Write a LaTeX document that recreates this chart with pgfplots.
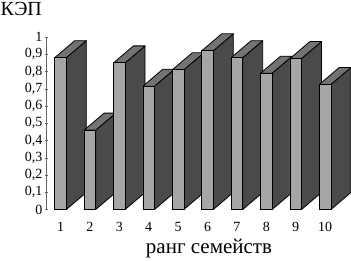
\documentclass[border=0pt]{standalone}
\usepackage{fontspec}
\setmainfont{Liberation Serif}
\usepackage{pgfplots}
\pgfplotsset{compat=1.18}
\definecolor{frontc}{gray}{0.65}
\definecolor{sidec}{gray}{0.29}
\definecolor{topc}{gray}{0.45}
\newcommand{\sidef}[1]{\addplot[draw=black,line width=0.8pt,fill=sidec,line join=round] coordinates {#1} --cycle;}
\newcommand{\topf}[1]{\addplot[draw=black,line width=0.8pt,fill=topc,line join=round] coordinates {#1} --cycle;}
\begin{document}
\begin{tikzpicture}[x=1pt,y=1pt]
\path[use as bounding box] (0,0) rectangle (351,260);
\begin{axis}[
  at={(46pt,50.5pt)},anchor=south west,
  scale only axis,width=305pt,height=172.5pt,
  xmin=0.507,xmax=10.88,ymin=0,ymax=1,
  clip=false,
  axis x line=none,
  axis y line=left,
  y axis line style={-,line width=0.3pt,black!60},
  ytick={0,0.1,...,1},
  yticklabels={0,{0,1},{0,2},{0,3},{0,4},{0,5},{0,6},{0,7},{0,8},{0,9},1},
  ticklabel style={font=\fontsize{14}{14}\selectfont},
  /pgf/number format/assume math mode=true,
  tick style={black!60,line width=0.3pt},
  major tick length=3pt,
  y tick label style={xshift=1.5pt},
]
\sidef{(1.197,0)(1.877,0.0986)(1.877,0.9786)(1.197,0.88)}
\sidef{(2.197,0)(2.877,0.0986)(2.877,0.5586)(2.197,0.46)}
\sidef{(3.197,0)(3.877,0.0986)(3.877,0.9486)(3.197,0.85)}
\sidef{(4.197,0)(4.877,0.0986)(4.877,0.8136)(4.197,0.715)}
\sidef{(5.197,0)(5.877,0.0986)(5.877,0.9086)(5.197,0.81)}
\sidef{(6.197,0)(6.877,0.0986)(6.877,1.0186)(6.197,0.92)}
\sidef{(7.197,0)(7.877,0.0986)(7.877,0.9786)(7.197,0.88)}
\sidef{(8.197,0)(8.877,0.0986)(8.877,0.8886)(8.197,0.79)}
\sidef{(9.197,0)(9.877,0.0986)(9.877,0.9736)(9.197,0.875)}
\sidef{(10.197,0)(10.877,0.0986)(10.877,0.8236)(10.197,0.725)}
\topf{(0.803,0.88)(1.197,0.88)(1.877,0.9786)(1.483,0.9786)}
\topf{(1.803,0.46)(2.197,0.46)(2.877,0.5586)(2.483,0.5586)}
\topf{(2.803,0.85)(3.197,0.85)(3.877,0.9486)(3.483,0.9486)}
\topf{(3.803,0.715)(4.197,0.715)(4.877,0.8136)(4.483,0.8136)}
\topf{(4.803,0.81)(5.197,0.81)(5.877,0.9086)(5.483,0.9086)}
\topf{(5.803,0.92)(6.197,0.92)(6.877,1.0186)(6.483,1.0186)}
\topf{(6.803,0.88)(7.197,0.88)(7.877,0.9786)(7.483,0.9786)}
\topf{(7.803,0.79)(8.197,0.79)(8.877,0.8886)(8.483,0.8886)}
\topf{(8.803,0.875)(9.197,0.875)(9.877,0.9736)(9.483,0.9736)}
\topf{(9.803,0.725)(10.197,0.725)(10.877,0.8236)(10.483,0.8236)}
\addplot[ybar,bar width=11.6pt,bar shift=0pt,draw=black,line width=0.8pt,fill=frontc] coordinates {
(1,0.88)(2,0.46)(3,0.85)(4,0.715)(5,0.81)(6,0.92)(7,0.88)(8,0.79)(9,0.875)(10,0.725)};
\end{axis}
\foreach \i in {1,...,10}{
  \node[font=\fontsize{14}{14}\selectfont,inner sep=0pt,anchor=base] at ({60.5+29.4*(\i-1)},28.5) {\i};
}
\node[font=\fontsize{21}{21}\selectfont,inner sep=0pt,anchor=base] at (209,7) {ранг семейств};
\node[font=\fontsize{20}{20}\selectfont,inner sep=0pt,anchor=base west] at (0.5,244.5) {КЭП};
\end{tikzpicture}
\end{document}
